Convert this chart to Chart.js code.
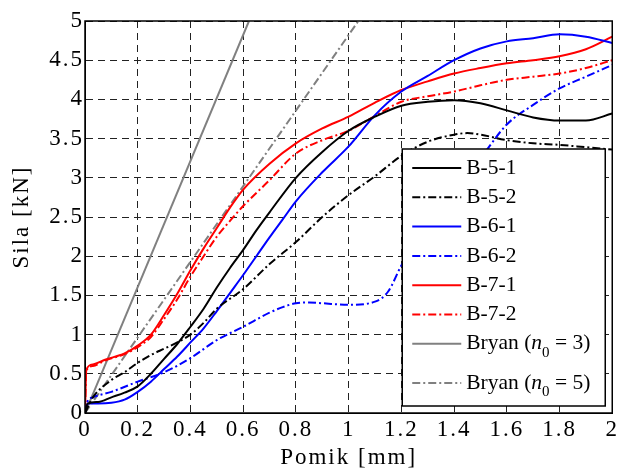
<!DOCTYPE html>
<html>
<head>
<meta charset="utf-8">
<script src="https://cdn.jsdelivr.net/npm/chart.js@4.4.1/dist/chart.umd.min.js"></script>
<style>
  body { margin: 0; background: #fff; }
  #wrap { width: 621px; height: 473px; }
</style>
</head>
<body>
<div id="wrap"><canvas id="grafSila" width="621" height="473"></canvas></div>
<script>
// oznake osi
const pomikTicks = ['0', '0.2', '0.4', '0.6', '0.8', '1', '1.2', '1.4', '1.6', '1.8', '2'];
const silaTicks = ['0', '0.5', '1', '1.5', '2', '2.5', '3', '3.5', '4', '4.5', '5'];
const nazivi = ['B-5-1', 'B-5-2', 'B-6-1', 'B-6-2', 'B-7-1', 'B-7-2', 'Bryan (n0 = 3)', 'Bryan (n0 = 5)'];

// meritve (pomik [mm], sila [kN])
const b51X = [0, 0.01, 0.05, 0.1, 0.15, 0.2, 0.25, 0.3, 0.35, 0.4, 0.45, 0.5, 0.55, 0.6, 0.65, 0.7, 0.8, 0.9, 1.0, 1.1, 1.2, 1.3, 1.4, 1.5, 1.6, 1.7, 1.8, 1.9, 2.0];
const b51Y = [0, 0.12, 0.14, 0.2, 0.26, 0.34, 0.5, 0.69, 0.88, 1.1, 1.33, 1.6, 1.85, 2.08, 2.33, 2.56, 3.0, 3.33, 3.6, 3.78, 3.92, 3.97, 3.99, 3.95, 3.86, 3.77, 3.73, 3.73, 3.82];

const b52X = [0, 0.03, 0.1, 0.15, 0.2, 0.25, 0.3, 0.35, 0.4, 0.45, 0.5, 0.6, 0.7, 0.8, 0.9, 1.0, 1.1, 1.2, 1.3, 1.4, 1.45, 1.5, 1.6, 1.7, 1.8, 1.9, 2.0];
const b52Y = [0, 0.2, 0.42, 0.52, 0.64, 0.74, 0.82, 0.9, 1.0, 1.15, 1.33, 1.58, 1.9, 2.18, 2.5, 2.78, 3.02, 3.28, 3.46, 3.55, 3.57, 3.55, 3.48, 3.44, 3.42, 3.39, 3.36];

const b61X = [0, 0.01, 0.05, 0.1, 0.15, 0.2, 0.25, 0.3, 0.35, 0.4, 0.45, 0.5, 0.55, 0.6, 0.65, 0.7, 0.75, 0.8, 0.9, 1.0, 1.1, 1.2, 1.3, 1.4, 1.5, 1.6, 1.7, 1.8, 1.9, 2.0];
const b61Y = [0, 0.12, 0.12, 0.13, 0.17, 0.27, 0.4, 0.56, 0.72, 0.9, 1.08, 1.3, 1.53, 1.76, 2.0, 2.24, 2.47, 2.7, 3.07, 3.4, 3.8, 4.1, 4.3, 4.5, 4.65, 4.74, 4.78, 4.83, 4.8, 4.72];

const b62X = [0, 0.01, 0.03, 0.1, 0.2, 0.3, 0.4, 0.5, 0.6, 0.7, 0.75, 0.8, 0.85, 0.9, 1.0, 1.1, 1.15, 1.2, 1.3, 1.4, 1.5, 1.6, 1.7, 1.8, 1.9, 2.0];
const b62Y = [0, 0.15, 0.2, 0.27, 0.4, 0.52, 0.7, 0.93, 1.1, 1.28, 1.35, 1.4, 1.41, 1.4, 1.38, 1.42, 1.55, 1.88, 2.4, 2.85, 3.25, 3.68, 3.93, 4.14, 4.29, 4.44];

const b71X = [0, 0.005, 0.03, 0.076, 0.15, 0.2, 0.25, 0.3, 0.35, 0.4, 0.45, 0.5, 0.55, 0.6, 0.7, 0.8, 0.9, 1.0, 1.1, 1.2, 1.3, 1.4, 1.5, 1.6, 1.7, 1.8, 1.9, 2.0];
const b71Y = [0, 0.55, 0.62, 0.68, 0.76, 0.86, 1.0, 1.25, 1.52, 1.82, 2.1, 2.36, 2.62, 2.85, 3.18, 3.44, 3.63, 3.78, 3.96, 4.12, 4.23, 4.33, 4.40, 4.46, 4.50, 4.55, 4.64, 4.80];

const b72X = [0, 0.005, 0.03, 0.076, 0.15, 0.2, 0.25, 0.3, 0.35, 0.4, 0.45, 0.5, 0.55, 0.6, 0.7, 0.8, 0.9, 1.0, 1.1, 1.2, 1.3, 1.4, 1.5, 1.6, 1.7, 1.8, 1.9, 2.0];
const b72Y = [0, 0.54, 0.6, 0.67, 0.75, 0.84, 0.97, 1.2, 1.45, 1.74, 2.0, 2.25, 2.45, 2.64, 2.97, 3.31, 3.48, 3.6, 3.79, 3.97, 4.04, 4.10, 4.18, 4.25, 4.29, 4.33, 4.40, 4.50];

const bryan3X = [0, 0.622];
const bryan3Y = [0, 5];
const bryan5X = [0, 1.037];
const bryan5Y = [0, 5];

const crtaPika = [8, 3, 2, 3];

const pari = (xs, ys) => xs.map((x, i) => ({ x: x, y: ys[i] }));

const serija = (naziv, xs, ys, barva, crtkano) => ({
    label: naziv,
    data: pari(xs, ys),
    borderColor: barva,
    borderWidth: 2,
    borderDash: crtkano ? crtaPika : [],
    pointRadius: 0,
    cubicInterpolationMode: 'monotone',
    fill: false
});

const PISAVA = '"Liberation Serif", "Times New Roman", serif';

function narisiOznako(ctx, besedilo, x, y) {
    ctx.fillStyle = '#000';
    ctx.textBaseline = 'middle';
    ctx.textAlign = 'left';
    ctx.font = '21.5px ' + PISAVA;
    const m = besedilo.match(/^(.*\()n0(.*)$/);
    if (!m) {
        ctx.fillText(besedilo, x, y);
        return;
    }
    ctx.fillText(m[1], x, y);
    x += ctx.measureText(m[1]).width;
    ctx.font = 'italic 21.5px ' + PISAVA;
    ctx.fillText('n', x, y);
    x += ctx.measureText('n').width;
    ctx.font = '15px ' + PISAVA;
    ctx.fillText('0', x, y + 9);
    x += ctx.measureText('0').width;
    ctx.font = '21.5px ' + PISAVA;
    ctx.fillText(m[2], x, y);
}

const razmikPlugin = {
    id: 'razmik',
    beforeDraw(chart) {
        chart.ctx.letterSpacing = '2px';
    }
};

const legendaPlugin = {
    id: 'legenda',
    afterDatasetsDraw(chart) {
        const ctx = chart.ctx;
        const ca = chart.chartArea;
        ctx.save();
        ctx.letterSpacing = '0px';

        // okvir grafa
        ctx.strokeStyle = '#000';
        ctx.lineWidth = 1.5;
        ctx.strokeRect(ca.left, ca.top, ca.right - ca.left, ca.bottom - ca.top);

        // legenda
        const w = 203, h = 257;
        const lx = ca.right - 7 - w, ly = ca.bottom - 7 - h;
        ctx.fillStyle = '#fff';
        ctx.fillRect(lx, ly, w, h);
        ctx.strokeRect(lx, ly, w, h);

        chart.data.datasets.forEach((ds, i) => {
            const y = ly + 19 + i * 29.3 + (i === 7 ? 10 : 0);
            ctx.beginPath();
            ctx.setLineDash(ds.borderDash);
            ctx.strokeStyle = ds.borderColor;
            ctx.lineWidth = 2;
            ctx.moveTo(lx + 10, y);
            ctx.lineTo(lx + 59, y);
            ctx.stroke();
            ctx.setLineDash([]);
            narisiOznako(ctx, ds.label, lx + 64, y);
        });
        ctx.restore();
    }
};

Chart.defaults.font.family = PISAVA;
Chart.defaults.color = '#000';

const ctx = document.getElementById('grafSila').getContext('2d');
new Chart(ctx, {
    type: 'line',
    data: {
        datasets: [
            serija(nazivi[0], b51X, b51Y, '#000000', false),
            serija(nazivi[1], b52X, b52Y, '#000000', true),
            serija(nazivi[2], b61X, b61Y, '#0000ff', false),
            serija(nazivi[3], b62X, b62Y, '#0000ff', true),
            serija(nazivi[4], b71X, b71Y, '#ff0000', false),
            serija(nazivi[5], b72X, b72Y, '#ff0000', true),
            serija(nazivi[6], bryan3X, bryan3Y, '#808080', false),
            serija(nazivi[7], bryan5X, bryan5Y, '#808080', true)
        ]
    },
    options: {
        responsive: false,
        animation: false,
        layout: { padding: { left: 0, right: 8, top: 21, bottom: 0 } },
        plugins: {
            legend: { display: false },
            tooltip: { enabled: false }
        },
        scales: {
            x: {
                type: 'linear',
                min: 0,
                max: 2,
                ticks: {
                    stepSize: 0.2,
                    maxRotation: 0,
                    padding: 3,
                    font: { size: 23 },
                    callback: (v, i) => pomikTicks[i]
                },
                grid: { color: '#222', lineWidth: 1, drawTicks: false },
                border: { display: true, color: '#000', width: 1, dash: [7, 5] },
                title: {
                    display: true,
                    text: 'Pomik [mm]',
                    font: { size: 23 },
                    padding: { top: 0, bottom: 1 }
                },
                afterFit: (s) => { s.height = 60; }
            },
            y: {
                min: 0,
                max: 5,
                ticks: {
                    stepSize: 0.5,
                    padding: 1,
                    font: { size: 23 },
                    callback: (v, i) => silaTicks[i]
                },
                grid: { color: '#222', lineWidth: 1, drawTicks: false },
                border: { display: true, color: '#000', width: 1, dash: [7, 5] },
                title: {
                    display: true,
                    text: 'Sila [kN]',
                    font: { size: 23 },
                    padding: { top: 8, bottom: 0 }
                },
                afterFit: (s) => { s.width = 85; }
            }
        }
    },
    plugins: [razmikPlugin, legendaPlugin]
});
</script>
</body>
</html>
